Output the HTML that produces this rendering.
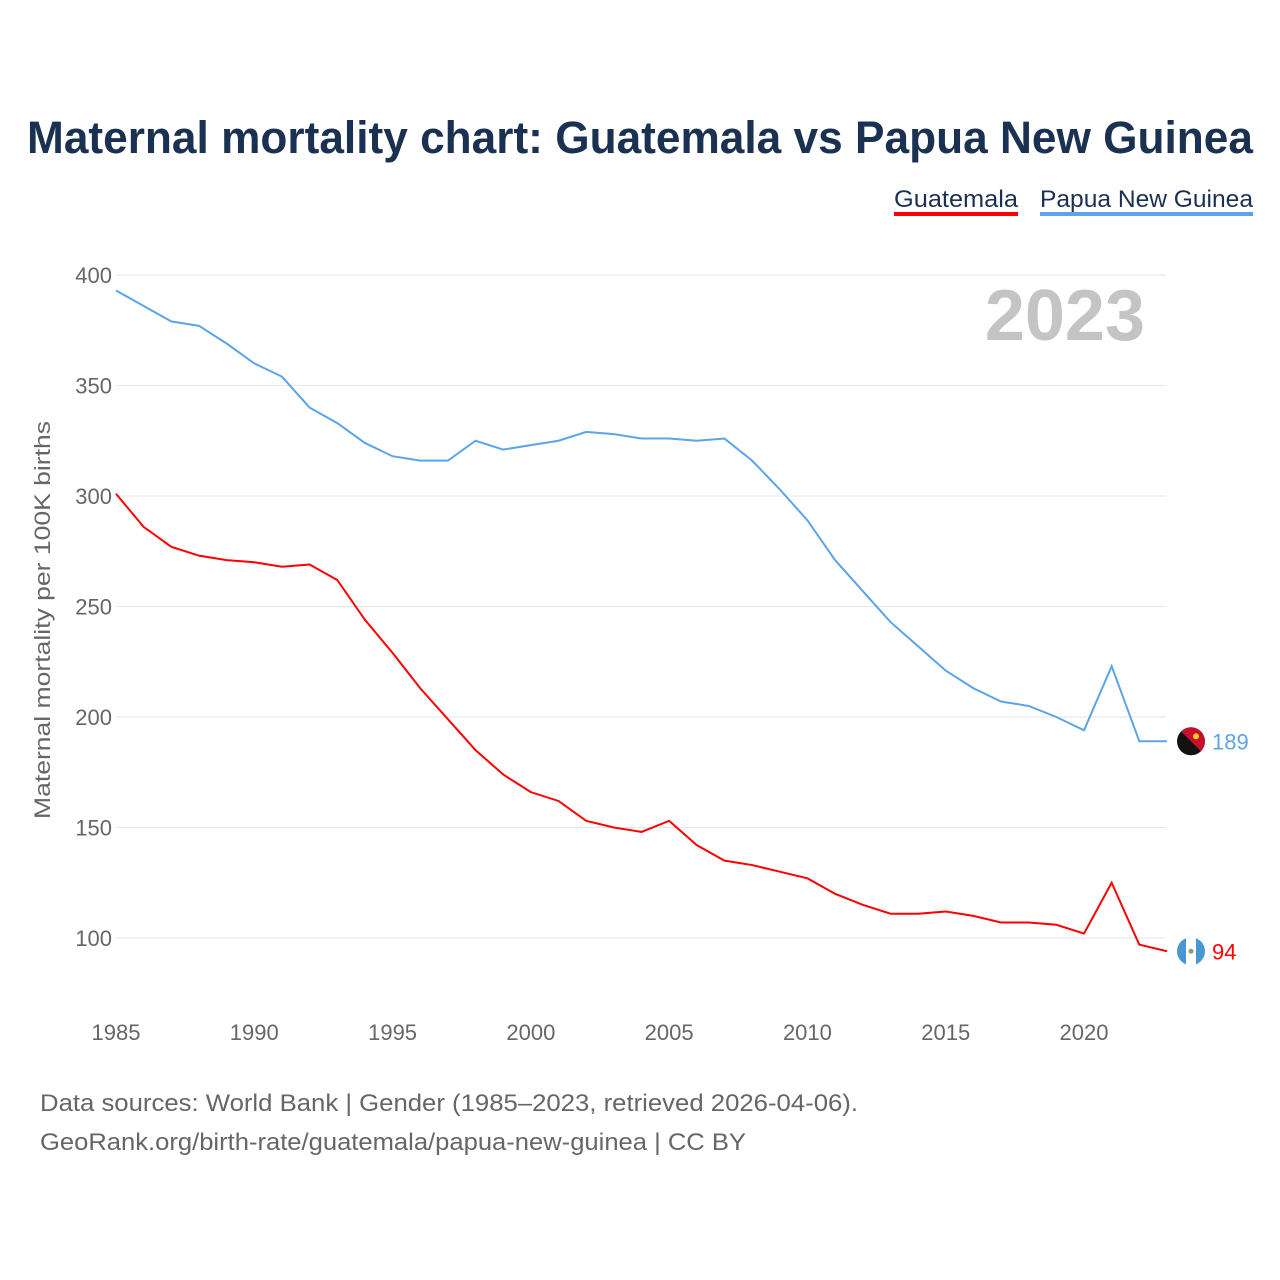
<!DOCTYPE html>
<html><head><meta charset="utf-8"><style>
body{margin:0;background:#fff;font-family:"Liberation Sans",sans-serif;}
#wrap{position:relative;width:1280px;height:1280px;overflow:hidden;}
</style></head><body>
<div id="wrap">
<svg id="chart" width="1280" height="1280"></svg>
</div>
<script>
const years=[1985,1986,1987,1988,1989,1990,1991,1992,1993,1994,1995,1996,1997,1998,1999,2000,2001,2002,2003,2004,2005,2006,2007,2008,2009,2010,2011,2012,2013,2014,2015,2016,2017,2018,2019,2020,2021,2022,2023];
const png=[393,386,379,377,369,360,354,340,333,324,318,316,316,325,321,323,325,329,328,326,326,325,326,316,303,289,271,257,243,232,221,213,207,205,200,194,223,189,189];
const gtm=[301,286,277,273,271,270,268,269,262,244,229,213,199,185,174,166,162,153,150,148,153,142,135,133,130,127,120,115,111,111,112,110,107,107,106,102,125,97,94];
const yTicks=[100,150,200,250,300,350,400];
const xTicks=[1985,1990,1995,2000,2005,2010,2015,2020];
const NS="http://www.w3.org/2000/svg";
const svg=document.getElementById('chart');
const X=y=>116+(y-1985)*(968/35);
const Y=v=>938-(v-100)*(663/300);
function el(t,a,txt){const e=document.createElementNS(NS,t);for(const k in a)e.setAttribute(k,a[k]);if(txt!=null)e.textContent=txt;svg.appendChild(e);return e;}
let e;
e=el('text',{x:27,y:153,'font-size':45,'font-weight':'bold',fill:'#1b3152',textLength:1226,lengthAdjust:'spacingAndGlyphs'},'Maternal mortality chart: Guatemala vs Papua New Guinea');


e=el('text',{x:894,y:207,'font-size':24,fill:'#1b3152',textLength:124,lengthAdjust:'spacingAndGlyphs'},'Guatemala');


el('rect',{x:894,y:212,width:124,height:4,fill:'#ff0000'});
e=el('text',{x:1040,y:207,'font-size':24,fill:'#1b3152',textLength:213,lengthAdjust:'spacingAndGlyphs'},'Papua New Guinea');


el('rect',{x:1040,y:212,width:213,height:4,fill:'#5ba4e8'});
yTicks.forEach(v=>{
 e=el('line',{x1:116,x2:1166,y1:Y(v),y2:Y(v),stroke:'#e6e6e6','stroke-width':1});
 
 
 e=el('text',{x:112,y:Y(v)+8,'text-anchor':'end','font-size':22,fill:'#666'},v);
 
 
});
xTicks.forEach(v=>{
 e=el('text',{x:X(v),y:1040,'text-anchor':'middle','font-size':22,fill:'#666'},v);
 
 
});
e=el('text',{x:0,y:0,transform:'translate(50,620) rotate(-90)','text-anchor':'middle','font-size':22,fill:'#666',textLength:398,lengthAdjust:'spacingAndGlyphs'},'Maternal mortality per 100K births');


e=el('text',{x:1145,y:340,'text-anchor':'end','font-size':72,'font-weight':'bold',fill:'#c4c4c4'},'2023');


function line(d,c,n){
 e=el('polyline',{points:d.map((v,i)=>X(years[i])+','+Y(v)).join(' '),fill:'none',stroke:c,'stroke-width':2});
 
 
}
line(png,'#5ba4e8','line-papua-new-guinea');
line(gtm,'#ff0000','line-guatemala');
const lp=png[png.length-1],lg=gtm[gtm.length-1];
const cy1=Y(lp),r=14,d=r*0.7071;
el('circle',{cx:1191,cy:cy1,r:r,fill:'#111'});
el('path',{d:`M${1191-d} ${cy1-d} A14 14 0 0 1 ${1191+d} ${cy1+d} Z`,fill:'#c8102e'});
el('circle',{cx:1196,cy:cy1-5,r:3,fill:'#fcd116'});
e=el('text',{x:1212,y:Y(lp)+8,'font-size':22,fill:'#5ba4e8'},lp);


el('circle',{cx:1191,cy:Y(lg),r:14,fill:'#4997d0'});
el('rect',{x:1186,y:Y(lg)-14,width:10,height:28,fill:'#fff'});
el('circle',{cx:1191,cy:Y(lg),r:2.5,fill:'#7aa36a'});
e=el('text',{x:1212,y:Y(lg)+8,'font-size':22,fill:'#ff0000'},lg);


e=el('text',{x:40,y:1111,'font-size':24,fill:'#666',textLength:818,lengthAdjust:'spacingAndGlyphs'},'Data sources: World Bank | Gender (1985–2023, retrieved 2026-04-06).');


e=el('text',{x:40,y:1150,'font-size':24,fill:'#666',textLength:706,lengthAdjust:'spacingAndGlyphs'},'GeoRank.org/birth-rate/guatemala/papua-new-guinea | CC BY');


</script>
</body></html>
